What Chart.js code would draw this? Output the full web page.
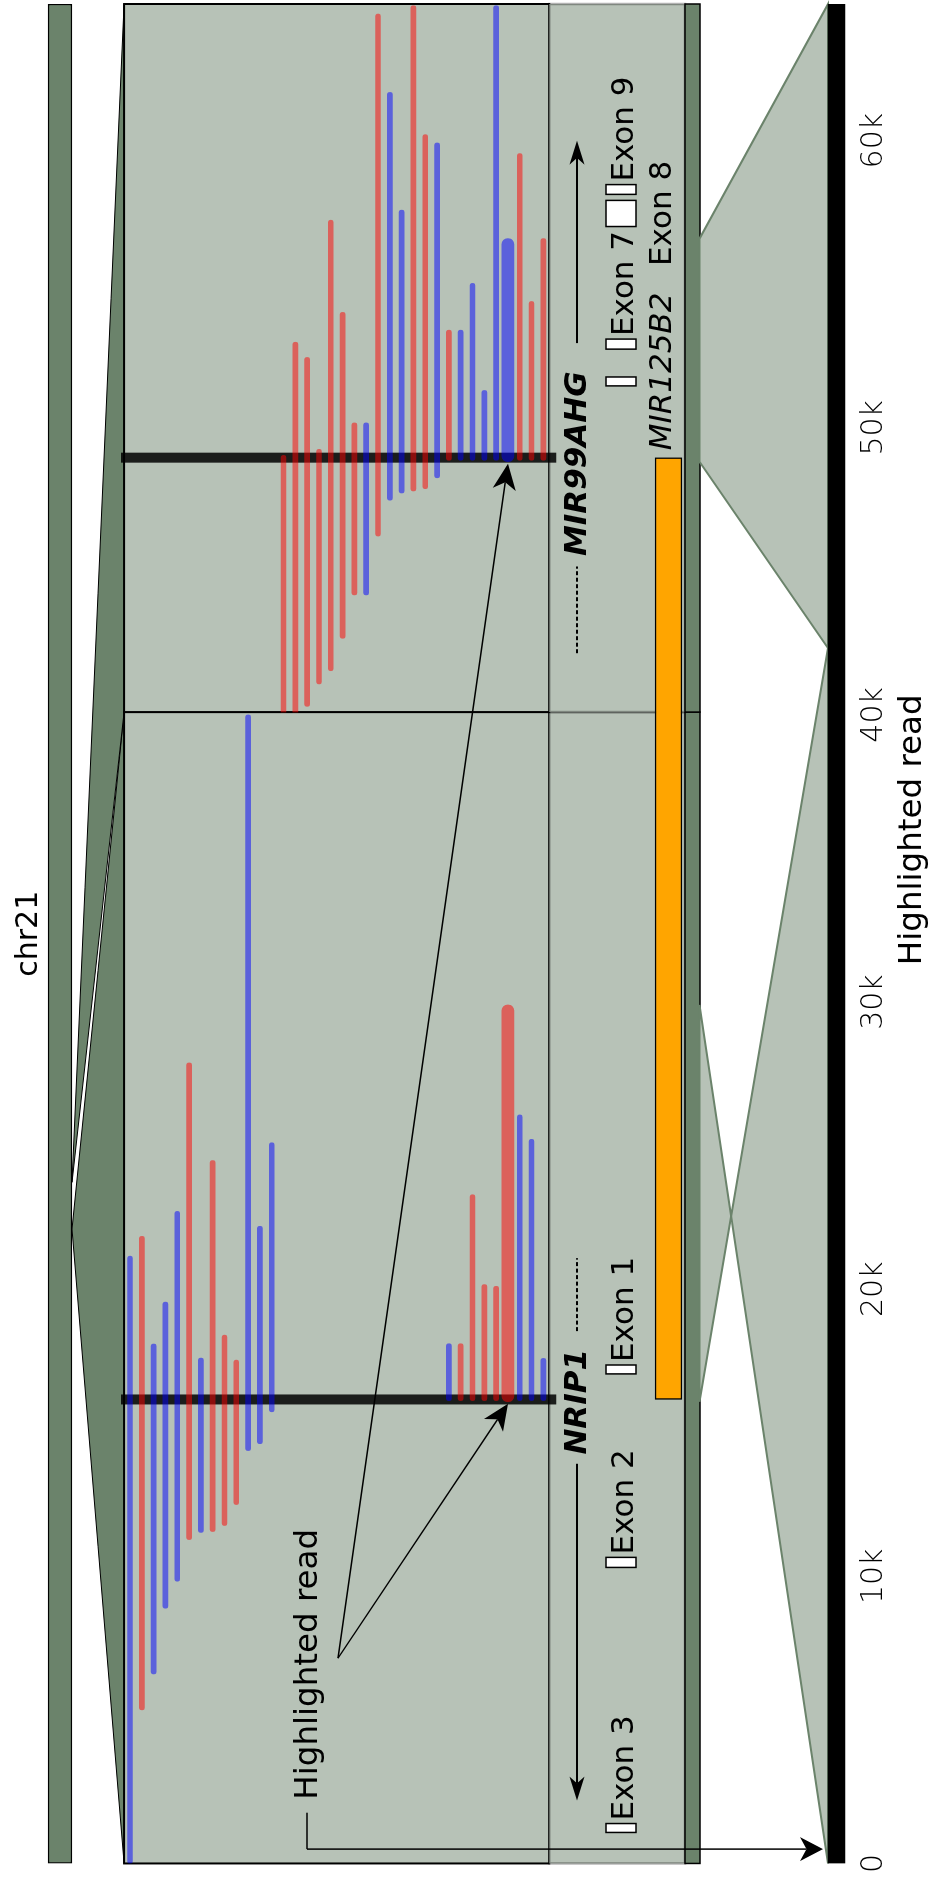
<!DOCTYPE html>
<html>
<head>
<meta charset="utf-8">
<script src="https://cdn.jsdelivr.net/npm/chart.js@4.4.1/dist/chart.umd.min.js"></script>
<style>
  html, body { margin: 0; padding: 0; background: #fff; }
  body { width: 934px; height: 1883px; overflow: hidden; position: relative; }
  /* the figure is laid out landscape and turned a quarter turn */
  #wrap { position: absolute; left: 0; top: 0; width: 1883px; height: 934px;
          transform-origin: 0 0; transform: translateY(1883px) rotate(-90deg); }
  canvas { display: block; }
</style>
</head>
<body>
<div id="wrap"><canvas id="c" width="1883" height="934"></canvas></div>
<script>
// ---------- data: positions in kb along the highlighted read ----------
const readLengthKb = 64.76;
const axisTicksKb = [0, 10, 20, 30, 40, 50, 60];

const chr21LengthMb = 48.13;
const regionGenes = ['NRIP1', 'MIR99AHG'];
const regionSpansKb = [[0, 40.1], [40.1, 64.76]];
const regionChrMb = [16.42, 17.63];
const breakpointsKb = [16.16, 48.96];
const bridgeSpanKb = [16.16, 48.96];

// reads: [row, start kb, end kb]
const reverseReads = [
  [1, 5.35, 21.84], [5, 11.28, 27.88], [7, 11.56, 24.48], [8, 11.77, 18.40], [9, 12.50, 17.53],
  [28, 16.12, 18.10], [29, 16.12, 23.29], [30, 16.12, 20.16], [31, 16.12, 20.10],
  [13, 40.1, 49.04], [14, 40.1, 52.98], [15, 40.30, 52.45], [16, 41.08, 49.25], [17, 41.54, 57.23],
  [18, 42.67, 54.02], [19, 44.18, 50.17], [21, 46.23, 64.41], [24, 47.80, 64.70], [25, 47.88, 60.21],
  [27, 48.87, 53.40], [33, 48.87, 59.55], [34, 48.87, 54.40], [35, 48.87, 56.59]
];
const forwardReads = [
  [0, 0, 21.15], [2, 6.60, 18.09], [3, 8.89, 19.55], [4, 9.83, 22.71], [6, 11.53, 17.60],
  [10, 14.38, 40.0], [11, 14.62, 22.19], [12, 15.73, 25.10],
  [27, 16.12, 18.10], [33, 16.12, 26.07], [34, 16.12, 25.22], [35, 16.12, 17.59],
  [20, 44.18, 50.17], [22, 47.48, 61.68], [23, 47.73, 57.58], [26, 48.26, 59.92],
  [28, 48.87, 53.40], [29, 48.87, 55.03], [30, 48.87, 51.30], [31, 48.87, 64.70]
];

// the highlighted read: aligned pieces in the panels and on the read itself
const highlightRow = 32;
const highlightPanelKb = [[16.08, 29.90], [48.82, 56.59]];
const highlightReadKb = [[42.33, 0], [42.33, 64.76]];
const highlightStrand = ['-', '+'];

// gene models
const geneLabelKb = [16.08, 48.75];
const geneSolidKb = [[2.19, 13.92], [52.95, 60.0]];
const geneDashedKb = [[18.54, 21.08], [42.15, 45.17]];
const geneStrand = ['-', '+'];

const exonNames = ['Exon 3', 'Exon 2', 'Exon 1', 'MIR125B2', 'Exon 7', 'Exon 8', 'Exon 9'];
const exonSpansKb = [[1.08, 1.39], [10.31, 10.66], [17.05, 17.36], [51.46, 51.77], [52.74, 53.09], [57.01, 57.92], [58.13, 58.47]];
const exonLabelsBelow = ['MIR125B2', 'Exon 8'];

// ---------- layout ----------
const W = 1883, H = 934;
const AREA_BOTTOM = 846;
const ROW0 = 130, ROW_STEP = 11.81;
const rowAt = px => (px - ROW0) / ROW_STEP;
const CHR_TOP = 48, CHR_BOT = 72;
const ANN_BOT = 685, REF_BOT = 700, READBAR_TOP = 828;
const PANEL_FILL = '#b7c2b7', DARK_GREEN = '#6b836b';
const RED = 'rgba(255,0,0,0.5)', BLUE = 'rgba(0,0,255,0.5)';
const FONT = '"DejaVu Sans", sans-serif';

Chart.defaults.font.family = FONT;

function roundedEnds(thick) {
  return (c) => {
    const r = thick / 2;
    const raw = c.raw;
    if (!raw) return r;
    const flatStart = regionSpansKb.some((s, i) => i > 0 && Math.abs(raw.x[0] - s[0]) < 1e-6);
    return { topLeft: flatStart ? 0 : r, bottomLeft: flatStart ? 0 : r, topRight: r, bottomRight: r };
  };
}

function readSet(label, reads, color, thick) {
  return {
    label, data: reads.map(([row, s, e]) => ({ y: row, x: [s, e] })),
    backgroundColor: color, borderWidth: 0, borderSkipped: false,
    borderRadius: roundedEnds(thick), barThickness: thick, grouped: false,
    xAxisID: 'x', yAxisID: 'y'
  };
}

const datasets = [
  { label: 'chr21', data: [{ y: rowAt((CHR_TOP + CHR_BOT) / 2), x: [0, chr21LengthMb] }],
    backgroundColor: DARK_GREEN, borderColor: '#000', borderWidth: 1.5, borderSkipped: false,
    barThickness: CHR_BOT - CHR_TOP, grouped: false, xAxisID: 'xChr', yAxisID: 'y' },
  { label: 'bridge', data: [{ y: rowAt(668.5), x: bridgeSpanKb }],
    backgroundColor: '#ffa500', borderColor: '#000', borderWidth: 1.5, borderSkipped: false,
    barThickness: 27, grouped: false, xAxisID: 'x', yAxisID: 'y' },
  { label: 'read', data: [{ y: rowAt(836.5), x: [0, readLengthKb] }],
    backgroundColor: '#000', borderWidth: 0, barThickness: 17, grouped: false, xAxisID: 'x', yAxisID: 'y' },
  readSet('reverse', reverseReads, RED, 5),
  readSet('forward', forwardReads, BLUE, 5),
  readSet('highlighted -', [[highlightRow, ...highlightPanelKb[0]]], RED, 12),
  readSet('highlighted +', [[highlightRow, ...highlightPanelKb[1]]], BLUE, 12)
];

function arrowHead(ctx, tx, ty, ang, len, half) {
  const c = Math.cos(ang), s = Math.sin(ang);
  const bx = tx - len * c, by = ty - len * s;
  const nx = -s, ny = c;
  const inner = len * 0.72;
  ctx.beginPath();
  ctx.moveTo(tx, ty);
  ctx.lineTo(bx + nx * half, by + ny * half);
  ctx.lineTo(tx - inner * c, ty - inner * s);
  ctx.lineTo(bx - nx * half, by - ny * half);
  ctx.closePath();
  ctx.fill();
}

function arrowLine(ctx, x0, y0, x1, y1, len, half, lw) {
  const ang = Math.atan2(y1 - y0, x1 - x0);
  const inner = len * 0.72;
  ctx.lineWidth = lw;
  ctx.beginPath();
  ctx.moveTo(x0, y0);
  ctx.lineTo(x1 - inner * Math.cos(ang), y1 - inner * Math.sin(ang));
  ctx.stroke();
  arrowHead(ctx, x1, y1, ang, len, half);
}

const decor = {
  id: 'decor',
  beforeDatasetsDraw(chart) {
    const { ctx } = chart;
    const xs = chart.scales.x, xc = chart.scales.xChr, ys = chart.scales.y;
    const X = v => xs.getPixelForValue(v);
    const top = ys.getPixelForValue(-0.5), bot = ys.getPixelForValue(35.5);
    ctx.save();
    // zoom triangles from the chromosome to each region panel
    regionSpansKb.forEach((span, i) => {
      ctx.beginPath();
      ctx.moveTo(xc.getPixelForValue(regionChrMb[i]), CHR_BOT);
      ctx.lineTo(X(span[0]), top);
      ctx.lineTo(X(span[1]), top);
      ctx.closePath();
      ctx.fillStyle = DARK_GREEN; ctx.fill();
      ctx.strokeStyle = '#000'; ctx.lineWidth = 1; ctx.stroke();
    });
    // region panels, annotation strips and reference strips
    regionSpansKb.forEach(span => {
      const x0 = X(span[0]), x1 = X(span[1]);
      ctx.fillStyle = PANEL_FILL;
      ctx.fillRect(x0, top, x1 - x0, bot - top);
      ctx.strokeStyle = '#000'; ctx.lineWidth = 2;
      ctx.strokeRect(x0, top, x1 - x0, bot - top);
      ctx.fillStyle = PANEL_FILL;
      ctx.fillRect(x0, bot, x1 - x0, ANN_BOT - bot);
      ctx.strokeStyle = 'rgba(0,0,0,0.3)'; ctx.lineWidth = 2.5;
      ctx.strokeRect(x0, bot, x1 - x0, ANN_BOT - bot);
      ctx.fillStyle = DARK_GREEN;
      ctx.fillRect(x0, ANN_BOT, x1 - x0, REF_BOT - ANN_BOT);
      ctx.strokeStyle = '#000'; ctx.lineWidth = 1.5;
      ctx.strokeRect(x0, ANN_BOT, x1 - x0, REF_BOT - ANN_BOT);
    });
    // pieces of the highlighted read joined to their places on the read
    highlightPanelKb.forEach((p, i) => {
      const r = highlightReadKb[i];
      ctx.beginPath();
      ctx.moveTo(X(p[0]), REF_BOT - 0.5);
      ctx.lineTo(X(p[1]), REF_BOT - 0.5);
      ctx.lineTo(X(r[1]), READBAR_TOP);
      ctx.lineTo(X(r[0]), READBAR_TOP);
      ctx.closePath();
      ctx.fillStyle = PANEL_FILL; ctx.fill();
      ctx.strokeStyle = DARK_GREEN; ctx.lineWidth = 2; ctx.stroke();
    });
    // breakpoints
    breakpointsKb.forEach(b => {
      ctx.strokeStyle = 'rgba(0,0,0,0.85)'; ctx.lineWidth = 10;
      ctx.beginPath();
      ctx.moveTo(X(b), top - 3);
      ctx.lineTo(X(b), bot + 7);
      ctx.stroke();
    });
    ctx.restore();
  },
  afterDatasetsDraw(chart) {
    const { ctx } = chart;
    const xs = chart.scales.x, ys = chart.scales.y;
    const X = v => xs.getPixelForValue(v);
    ctx.save();
    ctx.fillStyle = '#000'; ctx.strokeStyle = '#000';

    // gene models
    const GENE_Y = 577;
    regionGenes.forEach((g, i) => {
      ctx.font = `italic bold 31px ${FONT}`;
      ctx.textAlign = 'center'; ctx.textBaseline = 'alphabetic';
      ctx.fillText(g, X(geneLabelKb[i]), 586);
      const [a, b] = geneSolidKb[i];
      if (geneStrand[i] === '-') arrowLine(ctx, X(b), GENE_Y, X(a), GENE_Y, 24, 7.5, 1.8);
      else arrowLine(ctx, X(a), GENE_Y, X(b), GENE_Y, 24, 7.5, 1.8);
      const [d0, d1] = geneDashedKb[i];
      ctx.setLineDash([4, 2.5]); ctx.lineWidth = 1.8;
      ctx.beginPath(); ctx.moveTo(X(d0), GENE_Y); ctx.lineTo(X(d1), GENE_Y); ctx.stroke();
      ctx.setLineDash([]);
    });

    // exons
    exonNames.forEach((name, i) => {
      const [a, b] = exonSpansKb[i];
      const x0 = X(a), x1 = X(b);
      ctx.fillStyle = '#fff'; ctx.fillRect(x0, 606, x1 - x0, 30);
      ctx.strokeStyle = '#000'; ctx.lineWidth = 1.5; ctx.strokeRect(x0, 606, x1 - x0, 30);
      ctx.fillStyle = '#000';
      ctx.font = (name.startsWith('MIR') ? 'italic ' : '') + `31px ${FONT}`;
      ctx.textBaseline = 'alphabetic';
      if (exonLabelsBelow.includes(name)) {
        ctx.textAlign = 'center';
        ctx.fillText(name, (x0 + x1) / 2 + (name.startsWith('MIR') ? 10 : 0), 671);
      } else {
        ctx.textAlign = 'left';
        ctx.fillText(name, x1 + 3, 633);
      }
    });

    // pointer to the highlighted read
    ctx.font = `32.5px ${FONT}`;
    ctx.textAlign = 'left'; ctx.textBaseline = 'alphabetic';
    const labelX = X(2.22);
    ctx.fillText('Highlighted read', labelX, 317);
    const origin = [X(7.15), 338];
    const rowY = ys.getPixelForValue(highlightRow);
    highlightPanelKb.forEach(p => {
      arrowLine(ctx, origin[0], origin[1], X(p[0]) - 2, rowY, 26, 11.5, 1.5);
    });
    ctx.lineWidth = 1.5;
    ctx.beginPath();
    ctx.moveTo(labelX - 13, 307);
    ctx.lineTo(X(0.5), 307);
    ctx.stroke();
    arrowLine(ctx, X(0.5), 307, X(0.5), READBAR_TOP - 5, 23, 12, 1.5);

    // chromosome name
    ctx.font = `30px ${FONT}`;
    ctx.textAlign = 'center';
    ctx.fillText('chr21', (chart.chartArea.left + chart.chartArea.right) / 2, 37);

    // read axis title
    ctx.font = `32.5px ${FONT}`;
    ctx.fillText('Highlighted read', X(36.0), 921);
    ctx.restore();
  }
};

new Chart(document.getElementById('c'), {
  type: 'bar',
  data: { datasets },
  options: {
    indexAxis: 'y',
    responsive: false,
    animation: false,
    devicePixelRatio: 1,
    layout: { padding: { left: 14, right: 4, top: 0, bottom: 0 } },
    plugins: { legend: { display: false }, tooltip: { enabled: false } },
    scales: {
      x: {
        type: 'linear', position: 'bottom', min: 0, max: readLengthKb, offset: false,
        grid: { display: false, drawTicks: false }, border: { display: false },
        afterBuildTicks: s => { s.ticks = axisTicksKb.map(v => ({ value: v })); },
        afterFit: s => { s.height = H - AREA_BOTTOM; },
        ticks: {
          padding: 10, maxRotation: 0, autoSkip: false, color: '#000',
          font: { family: FONT, size: 30, weight: 200 },
          callback: v => (v === 0 ? '0' : `${v}k`)
        }
      },
      xChr: { type: 'linear', position: 'bottom', min: 0, max: chr21LengthMb, offset: false, display: false },
      y: { type: 'linear', reverse: true, min: rowAt(0), max: rowAt(AREA_BOTTOM), offset: false,
           grid: { offset: false }, display: false }
    }
  },
  plugins: [decor]
});
</script>
</body>
</html>
